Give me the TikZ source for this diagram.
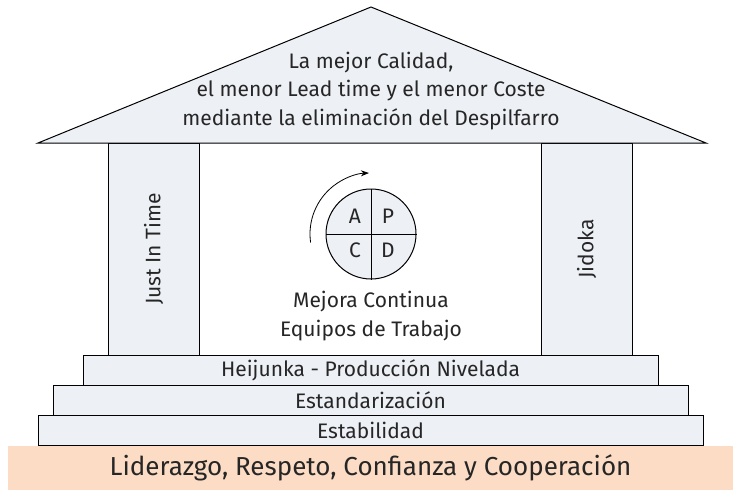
\documentclass[tikz,border=0pt]{standalone}
\usepackage{fontspec}
\setmainfont{Fira Sans}
\usetikzlibrary{arrows.meta,calc}
\definecolor{boxfill}{HTML}{EDF0F5}
\definecolor{basefill}{HTML}{FCDCC4}
\begin{document}
\begin{tikzpicture}[x=1pt,y=-1pt,
  box/.style={draw=black, line width=1pt, fill=boxfill, inner sep=0pt},
  txt/.style={font=\fontsize{21}{28.5}\selectfont, text=black!85, inner sep=0pt}]
\useasboundingbox (0,0) rectangle (740,498);
\fill[white] (0,0) rectangle (740,498);
% pillars
\node[box, minimum width=91pt, minimum height=212pt] (jit) at (153.5,249) {};
\node[box, minimum width=91pt, minimum height=212pt] (jid) at (586.5,249) {};
\node[txt, rotate=90] (jittxt) at (jit) {Just In Time};
\node[txt, rotate=90] (jidtxt) at (jid) {Jidoka};
% roof
\coordinate (rl) at (38,143);
\coordinate (ra) at (371,7);
\coordinate (rr) at (706,143);
\draw[box] (rl) -- (ra) -- (rr) -- cycle;
\node[txt, align=center] (rooftxt) at (371,91) {La mejor Calidad,\\el menor Lead time y el menor Coste\\mediante la eliminación del Despilfarro};
% steps
\node[box, minimum width=575pt, minimum height=30pt] (s1) at (370.5,370) {};
\node[box, minimum width=635pt, minimum height=30pt] (s2) at (370.5,400) {};
\node[box, minimum width=665pt, minimum height=30pt] (s3) at (370.5,430) {};
\node[txt] (s1t) at (s1) {Heijunka - Producción Nivelada};
\node[txt] (s2t) at (s2) {Estandarización};
\node[txt] (s3t) at (s3) {Estabilidad};
% base
\node[fill=basefill, minimum width=725pt, minimum height=44pt, inner sep=0pt] (base) at (370.5,468) {};
\node[font=\fontsize{26}{30}\selectfont, text=black!85, inner sep=0pt] (baset) at (base) {Liderazgo, Respeto, Confianza y Cooperación};
% PDCA
\node[box, circle, minimum size=90pt] (pdca) at (371,234) {};
\draw[line width=1pt] (pdca.north) -- (pdca.south);
\draw[line width=1pt] (pdca.west) -- (pdca.east);
\node[txt] (qa) at (355,216) {A};
\node[txt] (qp) at (388,216) {P};
\node[txt] (qc) at (355,250) {C};
\node[txt] (qd) at (388,250) {D};
\coordinate (arcstart) at ($(pdca.center)+(172:61)$);
\draw[line width=0.8pt, -{Stealth[length=8pt,width=6pt]}] (arcstart) arc[start angle=172, end angle=268, radius=61];
\node[txt, align=center] (mejora) at (371,316) {Mejora Continua\\Equipos de Trabajo};
\end{tikzpicture}
\end{document}
